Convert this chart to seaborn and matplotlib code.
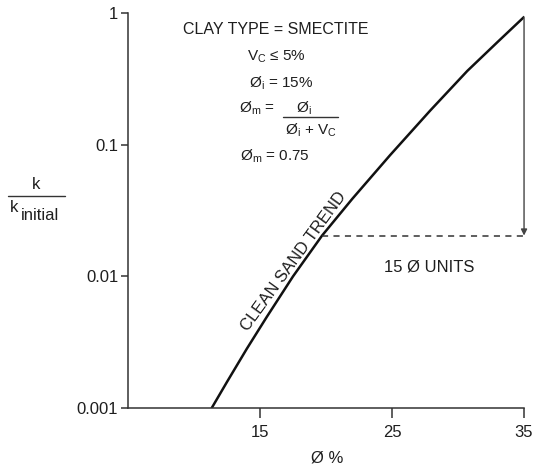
import numpy as np
import pandas as pd
import seaborn as sns
import matplotlib.pyplot as plt

sns.set_style("white")
plt.rcParams["font.family"] = ["Liberation Sans", "DejaVu Sans"]
plt.rcParams["mathtext.fontset"] = "custom"
plt.rcParams["mathtext.rm"] = "Liberation Sans"
plt.rcParams["mathtext.it"] = "Liberation Sans"

# clean sand trend
porosity = [11.34, 12.5, 14.0, 15.5, 17.5, 19.7, 22.0, 24.85, 27.9, 30.7, 33.0, 35.0]
k_ratio = [0.001, 0.00158, 0.00282, 0.0049, 0.010, 0.0204, 0.0389, 0.0832,
           0.182, 0.363, 0.603, 0.933]

x_ticks = [15, 25, 35]
y_ticks = [0.001, 0.01, 0.1, 1]
y_labels = ["0.001", "0.01", "0.1", "1"]

loss_level = 0.0204   # k/k_initial after losing 15 porosity units
start_phi = 19.7
end_phi = 35.0
end_k = 0.933

df = pd.DataFrame({"phi": porosity, "k": k_ratio})

ink = "#1e1e1e"
fig = plt.figure(figsize=(5.33, 4.68), dpi=100)
ax = fig.add_axes([0.2402, 0.1282, 0.743, 0.844])

sns.lineplot(data=df, x="phi", y="k", ax=ax, color="#111111", lw=1.8)
ax.set_yscale("log")
ax.set_xlim(5, 35)
ax.set_ylim(0.001, 1)

ax.set_xticks(x_ticks)
ax.set_xticklabels([str(t) for t in x_ticks])
ax.set_yticks(y_ticks)
ax.set_yticklabels(y_labels)
ax.minorticks_off()
ax.tick_params(axis="x", direction="out", length=7, width=1.1, pad=5,
               labelsize=12, colors="#333333", labelcolor=ink, bottom=True)
ax.tick_params(axis="y", direction="out", length=5, width=1.1, pad=2,
               labelsize=12, colors="#333333", labelcolor=ink, left=True)

for s in ["top", "right"]:
    ax.spines[s].set_visible(False)
for s in ["left", "bottom"]:
    ax.spines[s].set_color("#333333")
    ax.spines[s].set_linewidth(1.1)

# dashed level + arrow from the end of the trend
ax.plot([start_phi, end_phi], [loss_level, loss_level], ls=(0, (4, 3.5)),
        color="#333333", lw=1.1)
ax.annotate("", xy=(end_phi, loss_level), xytext=(end_phi, end_k),
            arrowprops=dict(arrowstyle="-|>", color="#444444", lw=1.0,
                            mutation_scale=9, shrinkA=0, shrinkB=0))

ax.set_xlabel("Ø %", fontsize=12, color=ink)
ax.xaxis.set_label_coords(0.503, -0.108)
ax.set_ylabel("")

# k / k_initial drawn as a stacked label
fig.text(0.0675, 0.605, "k", fontsize=12, color=ink, ha="center", va="center")
fig.add_artist(plt.Line2D([0.015, 0.122], [0.581, 0.581], color="#333333", lw=1.0))
fig.text(0.0265, 0.556, "k", fontsize=12, color=ink, ha="center", va="center")
fig.text(0.039, 0.540, "initial", fontsize=12, color=ink, ha="left", va="center")

tk = dict(transform=ax.transAxes, fontsize=11, color=ink, ha="center", va="center")
ax.text(0.373, 0.959, "CLAY TYPE = SMECTITE", **dict(tk, fontsize=11.5))
ax.text(0.374, 0.889, r"V$_\mathrm{C}$ ≤ 5%", **tk)
ax.text(0.386, 0.823, r"Ø$_\mathrm{i}$ = 15%", **tk)
ax.text(0.326, 0.759, r"Ø$_\mathrm{m}$ =", **tk)
ax.text(0.444, 0.759, r"Ø$_\mathrm{i}$", **tk)
ax.plot([0.391, 0.530], [0.737, 0.737], transform=ax.transAxes, color="#333333", lw=1.0)
ax.text(0.462, 0.703, r"Ø$_\mathrm{i}$ + V$_\mathrm{C}$", **tk)
ax.text(0.371, 0.636, r"Ø$_\mathrm{m}$ = 0.75", **tk)
ax.text(0.760, 0.357, "15 Ø UNITS", **dict(tk, fontsize=12))
ax.text(0.419, 0.370, "CLEAN SAND TREND", transform=ax.transAxes, fontsize=12,
        color=ink, ha="center", va="center", rotation=54, rotation_mode="anchor")

fig.savefig("out.png", dpi=100)
